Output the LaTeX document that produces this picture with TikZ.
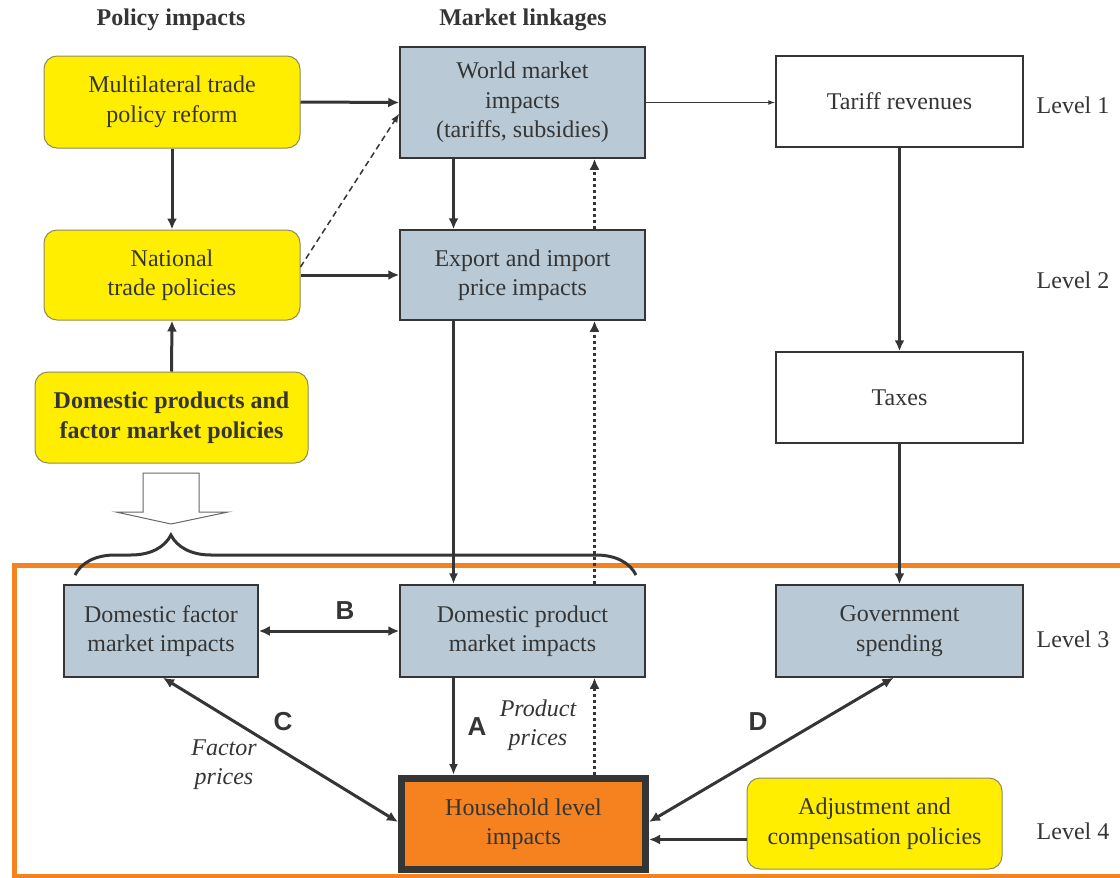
\documentclass[tikz,border=0pt]{standalone}
\usepackage{fontspec}
\setmainfont{Liberation Serif}
\newfontfamily\lblfont{Liberation Sans}
\usetikzlibrary{arrows.meta,decorations.pathreplacing,calc}
\definecolor{ink}{HTML}{353535}
\definecolor{boxblue}{HTML}{B9CAD6}
\definecolor{yel}{HTML}{FFEE00}
\definecolor{org}{HTML}{F5821F}
\definecolor{ybord}{HTML}{8E8B5E}
\begin{document}
\begin{tikzpicture}[x=1pt,y=-1pt,
  txt/.style={font=\fontsize{24}{29.5}\selectfont, text=ink, align=center},
  bfont/.style={font=\fontsize{24}{29.5}\selectfont\bfseries},
  bluebox/.style={txt, draw=ink, line width=1.5, fill=boxblue, inner sep=0pt},
  ybox/.style={txt, draw=ybord, line width=1, fill=yel, rounded corners=13pt, inner sep=0pt},
  wbox/.style={txt, draw=ink, line width=1.5, fill=white, inner sep=0pt},
  hhbox/.style={txt, draw=ink, line width=7, fill=org, inner sep=0pt},
  arr/.style={draw=ink, line width=3, -{Latex[length=11pt,width=10pt]}},
  medarr/.style={draw=ink, line width=2.2, -{Latex[length=11pt,width=9pt]}},
  thinarr/.style={draw=ink, line width=1.3, -{Latex[length=7pt,width=5pt]}},
  dblarr/.style={draw=ink, line width=3, {Latex[length=11pt,width=10pt]}-{Latex[length=11pt,width=10pt]}},
  dotarr/.style={draw=ink, line width=3, dash pattern=on 3pt off 3pt, -{Latex[length=11pt,width=10pt]}},
  dasharr/.style={draw=ink, line width=1.5, dash pattern=on 6pt off 4pt, -{Latex[length=9pt,width=7pt]}},
  letter/.style={font=\fontsize{26}{30}\selectfont\lblfont\bfseries, text=ink},
  itlabel/.style={font=\fontsize{24}{29}\selectfont\itshape, text=ink, align=center},
  levellbl/.style={txt}
]
\useasboundingbox (0,0) rectangle (1120,878);
\fill[white] (0,0) rectangle (1120,878);

% orange frame
\draw[org, line width=5] (1125,565) -- (14,565) -- (14,876) -- (1125,876);

% headers
\node[txt, bfont] (h1) at (171,20) {Policy impacts};
\node[txt, bfont] (h2) at (523,20) {Market linkages};

% yellow boxes
\node[ybox, minimum width=256, minimum height=92] (multi) at (172,102) {Multilateral trade\\policy reform};
\node[ybox, minimum width=256, minimum height=90] (nat) at (172,275) {National\\trade policies};
\node[ybox, bfont, minimum width=273, minimum height=91] (dom) at (171.5,417.5) {Domestic products and\\factor market policies};
\node[ybox, minimum width=255, minimum height=91] (adj) at (874.5,823.5) {Adjustment and\\compensation policies};

% blue boxes
\node[bluebox, minimum width=245, minimum height=111] (world) at (522.5,102.5) {World market\\impacts\\(tariffs, subsidies)};
\node[bluebox, minimum width=245, minimum height=90] (exp) at (522.5,275) {Export and import\\price impacts};
\node[bluebox, minimum width=194, minimum height=92] (fac) at (161,631) {Domestic factor\\market impacts};
\node[bluebox, minimum width=245, minimum height=92] (prod) at (522.5,631) {Domestic product\\market impacts};
\node[bluebox, minimum width=247, minimum height=92] (gov) at (899.5,631) {Government\\spending};

% white boxes
\node[wbox, minimum width=247, minimum height=91] (tariff) at (899.5,101.5) {Tariff revenues};
\node[wbox, minimum width=247, minimum height=91] (taxes) at (899.5,397.5) {Taxes};

% household
\node[hhbox, minimum width=244, minimum height=91] (hh) at (523.5,824) {Household level\\impacts};

% level labels
\node[levellbl] (l1) at (1073,105) {Level 1};
\node[levellbl] (l2) at (1073,280) {Level 2};
\node[levellbl] (l3) at (1073,639) {Level 3};
\node[levellbl] (l4) at (1073,831) {Level 4};

% hollow arrow
\draw[ink!75, line width=1, fill=white] (143,473) -- (199,473) -- (199,512) -- (228,512) -- (171,524) -- (116,512) -- (143,512) -- cycle;

% brace
\draw[ink, line width=3, decorate, decoration={brace, amplitude=40pt, aspect=0.171}] (75,575) -- (636,575);

% connectors
\draw[arr] (multi.east) -- (world.west);
\draw[arr] (multi.south) -- (nat.north);
\draw[arr] (nat.east) -- (exp.west);
\draw[dasharr] ($(nat.east)+(0,-8)$) -- ($(world.west)+(0,11)$);
\draw[arr] ($(world.south)+(-69,0)$) -- ($(exp.north)+(-69,0)$);
\draw[dotarr] ($(exp.north)+(72,0)$) -- ($(world.south)+(72,0)$);
\draw[thinarr] (world.east) -- (world.east -| tariff.west);
\draw[arr] (tariff.south) -- (taxes.north);
\draw[arr] (taxes.south) -- (gov.north);
\draw[arr] (dom.north) -- (nat.south);
\draw[medarr] ($(exp.south)+(-69,0)$) -- ($(prod.north)+(-69,0)$);
\draw[dotarr] ($(prod.north)+(72,0)$) -- ($(exp.south)+(72,0)$);
\draw[dblarr] (fac.east) -- (prod.west);
\draw[dblarr] ($(hh.west)+(0,-2)$) -- ($(fac.south)+(2,0)$);
\draw[medarr] ($(prod.south)+(-69,0)$) -- ($(hh.north)+(-70,0)$);
\draw[dotarr, line width=2.5] ($(hh.north)+(71,0)$) -- ($(prod.south)+(72,0)$);
\draw[dblarr] ($(hh.east)+(0,-2)$) -- ($(gov.south)+(-6,0)$);
\coordinate (adjin) at ($(adj.west)+(0,16)$);
\draw[arr] (adjin) -- (adjin -| hh.east);

% letters and italic labels
\node[letter] (lB) at (345,611) {B};
\node[letter] (lC) at (283,722) {C};
\node[letter] (lA) at (477,727) {A};
\node[letter] (lD) at (758,722) {D};
\node[itlabel] (fp) at (224,765) {Factor\\prices};
\node[itlabel] (pp) at (538,725) {Product\\prices};
\end{tikzpicture}
\end{document}
